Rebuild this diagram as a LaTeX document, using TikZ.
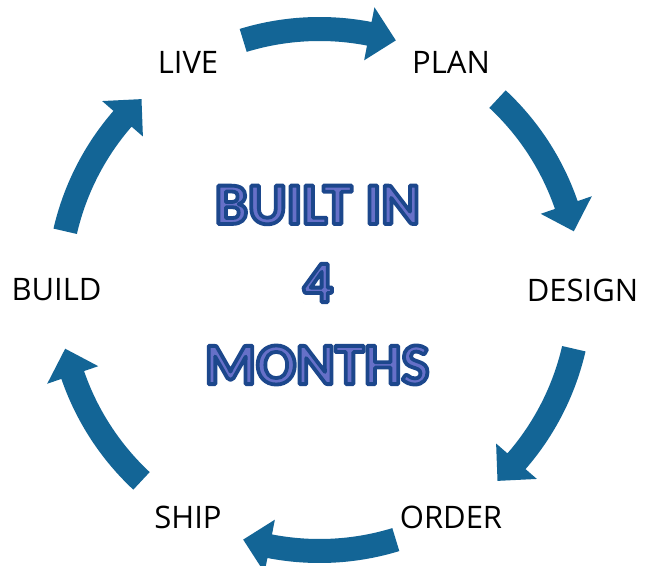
\documentclass[tikz,border=0pt]{standalone}
\usepackage{fontspec}
\usetikzlibrary{calc}
\setmainfont{Open Sans}
\newfontfamily\bigfont{Carlito}
\definecolor{arrowblue}{RGB}{19,101,150}
\definecolor{txtfill}{RGB}{102,112,200}
\def\Rmid{261}
\def\Rout{273}
\def\Rin{249}
\def\Rhout{288}
\def\Rhin{234}
\newcommand\curvedarrow[2]{%
  \pgfmathsetmacro\headbase{#2+6}%
  \fill[arrowblue] (#1:\Rout) arc[start angle=#1, end angle=\headbase, radius=\Rout]
    -- (\headbase:\Rhout) -- (#2:\Rmid) -- (\headbase:\Rhin) -- (\headbase:\Rin)
    arc[start angle=\headbase, end angle=#1, radius=\Rin] -- cycle;}
\newcommand\outl[1]{\special{pdf:code 2 Tr 3.8 w 1 j 0.11 0.28 0.55 RG}#1\special{pdf:code 0 Tr}}
\tikzset{
  lbl/.style={font=\fontsize{31}{33}\selectfont, text=black, inner sep=0pt},
  bigtxt/.style={font=\bigfont\bfseries\fontsize{59}{64}\selectfont, text=txtfill, inner sep=0pt}
}
\begin{document}
\begin{tikzpicture}[x=1pt,y=1pt]
\useasboundingbox (0,0) rectangle (652,565);
\fill[white] (0,0) rectangle (652,565);
\coordinate (C) at (319.5,275);
\begin{scope}[shift={(C)}]
  \curvedarrow{107}{73}
  \curvedarrow{47}{13}
  \curvedarrow{-13}{-47}
  \curvedarrow{-73}{-107}
  \curvedarrow{-133}{-167}
  \curvedarrow{167}{133}
\end{scope}
\node[lbl] (plan)   at ($(C)+(60:263)$)  {PLAN};
\node[lbl] (design) at ($(C)+(0:263)$)   {DESIGN};
\node[lbl] (order)  at ($(C)+(-60:263)$) {ORDER};
\node[lbl] (ship)   at ($(C)+(-120:263)$) {SHIP};
\node[lbl] (build)  at ($(C)+(180:263)$) {BUILD};
\node[lbl] (live)   at ($(C)+(120:263)$) {LIVE};
\node[bigtxt] (built)  at (317.5,360) {\outl{BUILT IN}};
\node[bigtxt] (four)   at (318,282)   {\outl{4}};
\node[bigtxt] (months) at (317,200)   {\outl{MONTHS}};
\end{tikzpicture}
\end{document}
